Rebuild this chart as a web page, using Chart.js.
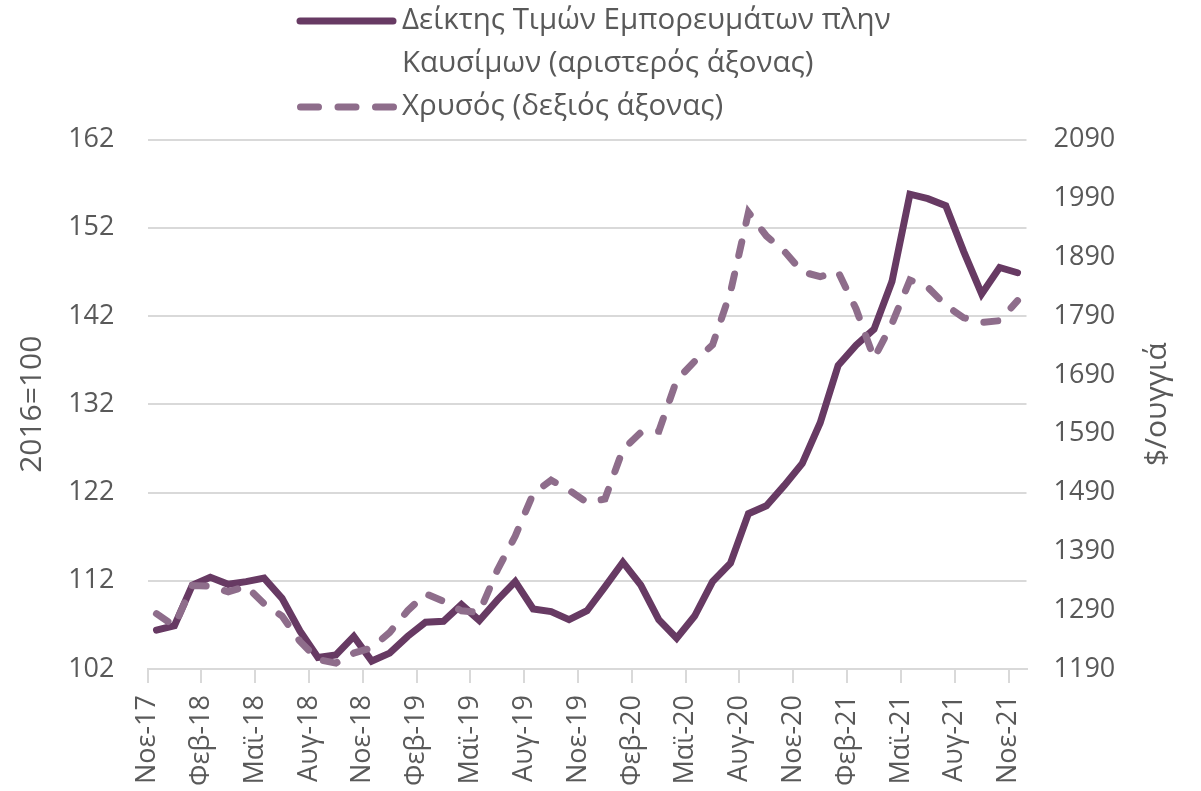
<!DOCTYPE html>
<html>
<head>
<meta charset="utf-8">
<title>Δείκτης Τιμών Εμπορευμάτων και Χρυσός</title>
<script src="https://cdn.jsdelivr.net/npm/chart.js"></script>
<style>
  html, body { margin: 0; padding: 0; background: #fff; overflow: hidden; }
  #wrap { position: relative; width: 1201px; height: 830px; }
</style>
</head>
<body>
<div id="wrap"><canvas id="myChart"></canvas></div>
<script>
var months = [
  'Νοε-17','Δεκ-17','Ιαν-18','Φεβ-18','Μαρ-18','Απρ-18','Μαϊ-18','Ιουν-18','Ιουλ-18','Αυγ-18','Σεπ-18','Οκτ-18',
  'Νοε-18','Δεκ-18','Ιαν-19','Φεβ-19','Μαρ-19','Απρ-19','Μαϊ-19','Ιουν-19','Ιουλ-19','Αυγ-19','Σεπ-19','Οκτ-19',
  'Νοε-19','Δεκ-19','Ιαν-20','Φεβ-20','Μαρ-20','Απρ-20','Μαϊ-20','Ιουν-20','Ιουλ-20','Αυγ-20','Σεπ-20','Οκτ-20',
  'Νοε-20','Δεκ-20','Ιαν-21','Φεβ-21','Μαρ-21','Απρ-21','Μαϊ-21','Ιουν-21','Ιουλ-21','Αυγ-21','Σεπ-21','Οκτ-21',
  'Νοε-21'
];

// Δείκτης τιμών εμπορευμάτων πλην καυσίμων (2016=100), αριστερός άξονας
var commodityIndex = [
  106.4, 106.9, 111.5, 112.4, 111.6, 111.9, 112.3, 110.0, 106.3, 103.3, 103.6, 105.7,
  102.9, 103.8, 105.7, 107.3, 107.4, 109.3, 107.5, 109.8, 111.9, 108.8, 108.5, 107.6,
  108.6, 111.3, 114.1, 111.5, 107.6, 105.5, 108.0, 111.9, 114.0, 119.6, 120.5, 122.8,
  125.3, 129.9, 136.4, 138.7, 140.5, 145.9, 155.8, 155.3, 154.5, 149.3, 144.5, 147.5,
  146.9
];

// Χρυσός ($/ουγγιά), δεξιός άξονας
var goldPrice = [
  1284, 1263, 1332, 1331, 1321, 1331, 1301, 1280, 1237, 1206, 1200, 1217,
  1226, 1252, 1289, 1318, 1305, 1289, 1286, 1358, 1416, 1488, 1511, 1494,
  1473, 1479, 1563, 1592, 1594, 1681, 1713, 1741, 1831, 1966, 1926, 1900,
  1865, 1857, 1865, 1802, 1718, 1777, 1851, 1839, 1808, 1787, 1779, 1782,
  1816
];

var seriesNames = [
  ['Δείκτης Τιμών Εμπορευμάτων πλην', 'Καυσίμων (αριστερός άξονας)'],
  ['Χρυσός (δεξιός άξονας)']
];
var leftTitle = '2016=100';
var rightTitle = '$/ουγγιά';

var solidColor = '#673a63';
var dashColor = '#8e6d8b';
var textColor = '#595959';
var gridColor = '#d9d9d9';
var fontFamily = "'Open Sans', 'Noto Sans', sans-serif";

function toPoints(values) {
  return values.map(function (v, i) { return { x: i, y: v }; });
}

var extras = {
  id: 'extras',
  afterDraw: function (chart) {
    var ctx = chart.ctx;
    var area = chart.chartArea;
    var midY = (area.top + area.bottom) / 2;
    ctx.save();

    // axis titles, both read bottom to top
    ctx.fillStyle = textColor;
    ctx.font = '30px ' + fontFamily;
    ctx.textAlign = 'center';
    ctx.textBaseline = 'middle';
    ctx.save();
    ctx.translate(32, midY);
    ctx.rotate(-Math.PI / 2);
    ctx.fillText(leftTitle, 0, 0);
    ctx.restore();
    ctx.save();
    ctx.translate(1157, midY);
    ctx.rotate(-Math.PI / 2);
    ctx.fillText(rightTitle, 0, 0);
    ctx.restore();

    // legend
    ctx.lineWidth = 7;
    ctx.lineCap = 'round';
    ctx.strokeStyle = solidColor;
    ctx.beginPath();
    ctx.moveTo(300, 21);
    ctx.lineTo(393, 21);
    ctx.stroke();

    ctx.strokeStyle = dashColor;
    ctx.setLineDash([18, 19.5]);
    ctx.beginPath();
    ctx.moveTo(300.5, 107);
    ctx.lineTo(394, 107);
    ctx.stroke();
    ctx.setLineDash([]);

    ctx.font = '29.5px ' + fontFamily;
    ctx.textAlign = 'left';
    ctx.fillText(seriesNames[0][0], 402, 21);
    ctx.fillText(seriesNames[0][1], 402, 64);
    ctx.fillText(seriesNames[1][0], 402, 107);

    ctx.restore();
  }
};

var config = {
  type: 'line',
  data: {
    datasets: [{
      label: seriesNames[1].join(' '),
      data: toPoints(goldPrice),
      yAxisID: 'yRight',
      borderColor: dashColor,
      borderWidth: 7,
      borderDash: [14, 19],
      borderCapStyle: 'round',
      pointRadius: 0,
      tension: 0,
      order: 0
    }, {
      label: seriesNames[0].join(' '),
      data: toPoints(commodityIndex),
      yAxisID: 'yLeft',
      borderColor: solidColor,
      borderWidth: 7,
      borderCapStyle: 'round',
      pointRadius: 0,
      tension: 0,
      order: 1
    }]
  },
  options: {
    animation: false,
    responsive: true,
    maintainAspectRatio: false,
    events: [],
    layout: { padding: { top: 139.5, left: 0, right: 0, bottom: 0 } },
    plugins: {
      legend: { display: false },
      tooltip: { enabled: false }
    },
    scales: {
      x: {
        type: 'linear',
        min: -0.5,
        max: 48.5,
        afterBuildTicks: function (scale) {
          var t = [];
          for (var i = 0; i < months.length; i += 3) t.push({ value: i - 0.5 });
          scale.ticks = t;
        },
        afterFit: function (scale) { scale.height = 830 - 669; },
        grid: {
          drawOnChartArea: false,
          drawTicks: true,
          tickLength: 14,
          color: gridColor,
          lineWidth: 2
        },
        border: { color: gridColor, width: 2 },
        ticks: {
          autoSkip: false,
          minRotation: 90,
          maxRotation: 90,
          padding: 12,
          color: textColor,
          font: { family: fontFamily, size: 27 },
          callback: function (value) {
            return months[Math.round(value + 0.5)];
          }
        }
      },
      yLeft: {
        position: 'left',
        min: 102,
        max: 162,
        afterFit: function (scale) { scale.width = 147.5; },
        grid: { color: gridColor, lineWidth: 2, drawTicks: false },
        border: { display: false },
        ticks: {
          stepSize: 10,
          padding: 33,
          color: textColor,
          font: { family: fontFamily, size: 27 },
          callback: function (value) { return String(value); }
        }
      },
      yRight: {
        position: 'right',
        min: 1190,
        max: 2090,
        afterFit: function (scale) { scale.width = 1201 - 1026.5; },
        grid: { drawOnChartArea: false, drawTicks: false },
        border: { display: false },
        ticks: {
          stepSize: 100,
          padding: 27,
          color: textColor,
          font: { family: fontFamily, size: 27 },
          callback: function (value) { return String(value); }
        }
      }
    }
  },
  plugins: [extras]
};

window.onload = function () {
  var ctx = document.getElementById('myChart').getContext('2d');
  window.myChart = new Chart(ctx, config);
};
</script>
</body>
</html>
